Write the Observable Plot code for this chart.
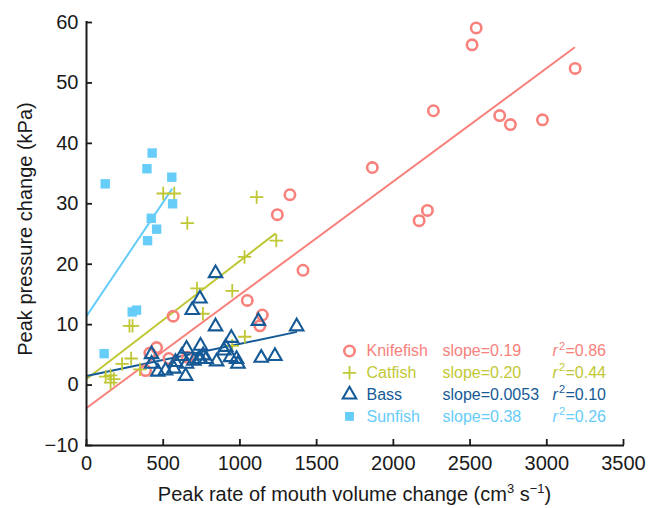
<!DOCTYPE html>
<html><head><meta charset="utf-8">
<script src="https://cdn.jsdelivr.net/npm/d3@7"></script>
<script src="https://cdn.jsdelivr.net/npm/@observablehq/plot@0.6"></script>
<style>body{margin:0;background:#fff}#chart{width:657px;height:508px}</style>
</head><body><div id="chart"></div>
<script>
// ---- data ----
const species = ["Knifefish", "Catfish", "Bass", "Sunfish"];
const slopeLabels = ["slope=0.19", "slope=0.20", "slope=0.0053", "slope=0.38"];
const r2Labels = ["0.86", "0.44", "0.10", "0.26"];

const knifeX = [2540, 2513, 3185, 2261, 2693, 2763, 2972, 1863, 1326, 1244, 1411, 2222, 2168, 565, 1048, 1146, 1130, 457, 413, 537, 385, 657];
const knifeY = [59.1, 56.3, 52.4, 45.4, 44.6, 43.1, 43.9, 36.0, 31.5, 28.2, 19.0, 28.9, 27.2, 11.4, 14.0, 11.6, 9.8, 6.2, 5.3, 4.4, 2.4, 4.6];

const catX = [500, 572, 1109, 657, 1237, 1030, 720, 950, 759, 280, 300, 1032, 950, 232, 291, 348, 125, 157, 178, 157];
const catY = [31.7, 31.7, 31.1, 26.8, 23.9, 21.2, 16.0, 15.6, 11.8, 9.8, 9.8, 8.0, 6.5, 3.5, 4.4, 2.6, 1.4, 1.6, 1.0, 0.4];

const bassX = [841, 739, 689, 841, 1120, 1370, 944, 907, 743, 652, 896, 939, 978, 987, 1139, 1228, 848, 743, 760, 652, 646, 424, 424, 580, 515, 465, 570, 732, 700, 780, 620];
const bassY = [18.5, 14.3, 12.4, 9.7, 10.6, 9.7, 7.8, 6.3, 6.5, 6.0, 5.7, 4.6, 4.3, 3.5, 4.5, 4.8, 3.9, 4.3, 4.9, 3.5, 1.5, 5.1, 3.5, 3.8, 2.4, 2.2, 2.7, 4.3, 4.0, 4.3, 4.8];

const sunX = [428, 394, 122, 556, 561, 422, 457, 398, 298, 326, 115];
const sunY = [38.4, 35.8, 33.3, 34.4, 30.0, 27.6, 25.8, 23.9, 12.1, 12.4, 5.2];

// fitted regression lines (start/end x and y)
const fitX0 = [0, 0, 0, 0];
const fitX1 = [3183, 1233, 1372, 559];
const fitY0 = [-3.8, 1.0, 1.5, 11.4];
const fitY1 = [55.9, 25.1, 8.8, 32.5];

const xTicks = [0, 500, 1000, 1500, 2000, 2500, 3000, 3500];
const yTicks = [-10, 0, 10, 20, 30, 40, 50, 60];

// ---- styles ----
const colors = ["#F8817C", "#BFC834", "#155A96", "#66CCF8"];
const font = "'Liberation Sans', Arial, Helvetica, sans-serif";
const ink = "#1a1a1a";

const rows = (xs, ys) => xs.map((x, i) => ({x, y: ys[i]}));
const series = [rows(knifeX, knifeY), rows(catX, catY), rows(bassX, bassY), rows(sunX, sunY)];

const symStyle = [
  {symbol: "circle", r: 5.2, fill: "none", stroke: colors[0], strokeWidth: 2.6},
  {symbol: "plus", r: 4.4, fill: "none", stroke: colors[1], strokeWidth: 1.8},
  {symbol: "triangle", r: 5, fill: "none", stroke: colors[2], strokeWidth: 2.1},
  {symbol: "square", r: 5.3, fill: colors[3], stroke: "none"}
];

const marks = [];
// fit lines
species.forEach((s, i) => {
  marks.push(Plot.link([{x1: fitX0[i], y1: fitY0[i], x2: fitX1[i], y2: fitY1[i]}],
    {x1: "x1", y1: "y1", x2: "x2", y2: "y2", stroke: colors[i], strokeWidth: 2}));
});
// points
species.forEach((s, i) => {
  marks.push(Plot.dot(series[i], {x: "x", y: "y", ...symStyle[i]}));
});
// axes
marks.push(Plot.ruleX([0], {stroke: ink, strokeWidth: 2, strokeLinecap: "square"}));
marks.push(Plot.ruleY([-10], {stroke: ink, strokeWidth: 2, strokeLinecap: "square"}));
marks.push(Plot.axisX({ticks: xTicks, tickSize: -6, tickPadding: 16, tickFormat: d3.format("d"), fontSize: 20, strokeWidth: 1.8, stroke: ink, fill: ink, label: null}));
marks.push(Plot.axisY({ticks: yTicks, tickSize: -6, tickPadding: 14, fontSize: 20, strokeWidth: 1.8, stroke: ink, fill: ink, label: null}));
marks.push(Plot.text(["Peak pressure change (kPa)"], {text: d => d, frameAnchor: "left", dx: -61, dy: -5, rotate: -90, fontSize: 20, textAnchor: "middle", lineAnchor: "middle", fill: ink}));

// legend
const legY0 = 328.5, legStep = 21.8;
species.forEach((s, i) => {
  const dy = legY0 + i * legStep;
  const st = {...symStyle[i]};
  if (i === 3) st.r = 5;
  const txt = {frameAnchor: "top-left", textAnchor: "start", lineAnchor: "middle", fill: colors[i], fontSize: 16};
  marks.push(Plot.dot([0], {frameAnchor: "top-left", dx: 263, dy, ...st}));
  marks.push(Plot.text([s], {text: d => d, dx: 280, dy, ...txt}));
  marks.push(Plot.text([slopeLabels[i]], {text: d => d, dx: 356, dy, ...txt}));
  marks.push(Plot.text(["r"], {text: d => d, dx: 466, dy, ...txt, fontStyle: "italic"}));
  marks.push(Plot.text(["2"], {text: d => d, dx: 472.5, dy: dy - 5, ...txt, fontSize: 11}));
  marks.push(Plot.text(["=" + r2Labels[i]], {text: d => d, dx: 479, dy, ...txt}));
});

const chart = Plot.plot({
  width: 657, height: 508,
  marginLeft: 86, marginRight: 34, marginTop: 22, marginBottom: 63,
  x: {domain: [0, 3500]},
  y: {domain: [-10, 60]},
  style: {fontFamily: font, background: "white", color: ink},
  marks
});

// x-axis title with superscripts
const t = d3.select(chart).append("text")
  .attr("x", 354.5).attr("y", 501)
  .attr("text-anchor", "middle")
  .attr("font-size", 20).attr("font-family", font).attr("fill", ink);
t.append("tspan").text("Peak rate of mouth volume change (cm");
t.append("tspan").attr("font-size", 13).attr("dy", -8).text("3");
t.append("tspan").attr("dy", 8).text(" s");
t.append("tspan").attr("font-size", 13).attr("dy", -8).text("\u22121");
t.append("tspan").attr("dy", 8).text(")");

document.getElementById("chart").appendChild(chart);
</script>
</body></html>
